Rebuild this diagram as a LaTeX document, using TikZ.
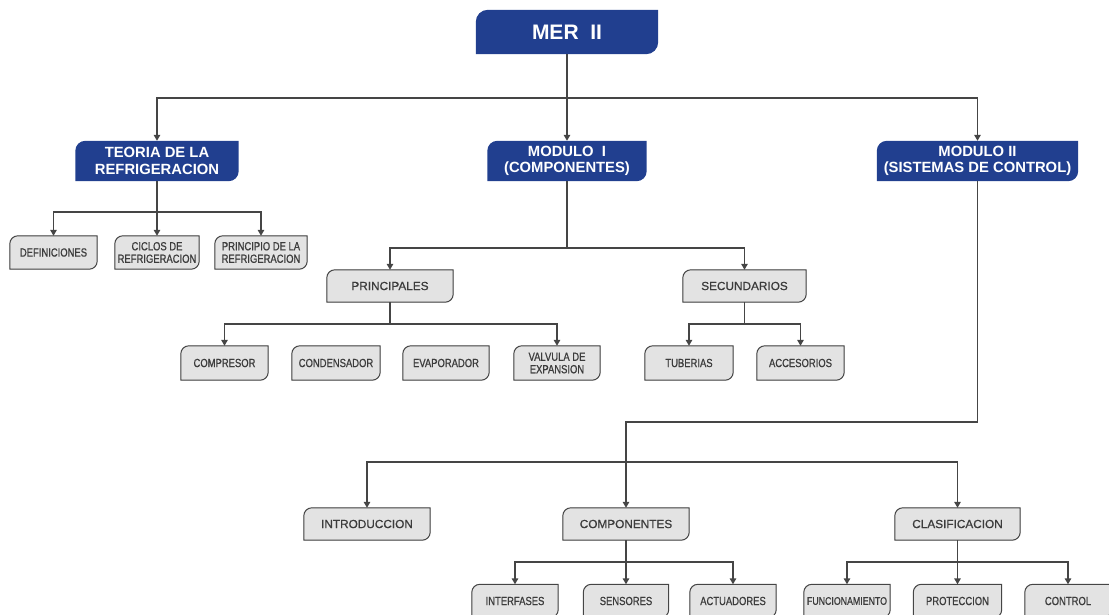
\documentclass[tikz,border=0pt]{standalone}
\usepackage{fontspec}
\setmainfont{Liberation Sans}
\newfontfamily\cond[FakeStretch=0.8,FakeBold=0.8]{Liberation Sans}
\newfontfamily\midf[FakeBold=0.8]{Liberation Sans}
\usetikzlibrary{arrows.meta,backgrounds}
\definecolor{mblue}{HTML}{213F8F}
\definecolor{gfill}{HTML}{E3E3E3}
\definecolor{gline}{HTML}{454545}
\definecolor{gtext}{HTML}{3C3C3C}
\tikzset{
  box/.style={rectangle, inner sep=0pt, align=center},
  bluebox/.style={box, text=white, font=\fontsize{14.8}{16.5}\selectfont\bfseries},
  midbox/.style={box, text=gtext, font=\midf\fontsize{11.8}{13}\selectfont},
  leafbox/.style={box, text=gtext, font=\cond\fontsize{11.8}{12.5}\selectfont},
  line/.style={draw=gline, line width=1.4pt},
  arr/.style={line, -{Triangle[width=6.5pt,length=6pt]}},
  blueshape/.style={fill=mblue},
  grayshade/.style={fill=gline, shift={(1.6,1.6)}},
  grayshape/.style={fill=gfill, draw=gline, line width=1pt},
}
\newcommand\shp[3]{\path[#3] (#1.south west) -- ([yshift=-#2pt]#1.north west) .. controls ([yshift=-0.45*#2pt]#1.north west) and ([xshift=0.45*#2pt]#1.north west) .. ([xshift=#2pt]#1.north west) -- (#1.north east) -- ([yshift=#2pt]#1.south east) .. controls ([yshift=0.45*#2pt]#1.south east) and ([xshift=-0.45*#2pt]#1.south east) .. ([xshift=-#2pt]#1.south east) -- cycle;}
\begin{document}
\begin{tikzpicture}[x=1pt,y=-1pt]
\useasboundingbox (0,0) rectangle (1109,614);
% blue nodes
\node[bluebox, minimum width=182pt, minimum height=44pt, font=\fontsize{21}{23}\selectfont\bfseries] (mer) at (567,32) {MER\ \ II};
\node[bluebox, minimum width=163pt, minimum height=40pt] (teo) at (157,161) {TEORIA DE LA\\REFRIGERACION};
\node[bluebox, minimum width=159pt, minimum height=40pt] (m1) at (567,161) {MODULO\ \ I\\(COMPONENTES)};
\node[bluebox, minimum width=201pt, minimum height=40pt] (m2) at (977.5,161) {MODULO II\\(SISTEMAS DE CONTROL)};
% mid nodes
\node[midbox, minimum width=126pt, minimum height=32pt] (pri) at (390,286) {PRINCIPALES};
\node[midbox, minimum width=123pt, minimum height=32pt] (sec) at (744.5,286) {SECUNDARIOS};
\node[midbox, minimum width=126pt, minimum height=32pt] (intro) at (367,524) {INTRODUCCION};
\node[midbox, minimum width=126pt, minimum height=32pt] (comp) at (626,524) {COMPONENTES};
\node[midbox, minimum width=125pt, minimum height=32pt] (clas) at (957.5,524) {CLASIFICACION};
% leaves
\node[leafbox, minimum width=87pt, minimum height=33pt] (def) at (53.5,252.5) {DEFINICIONES};
\node[leafbox, minimum width=84pt, minimum height=33pt] (cic) at (157,252.5) {CICLOS DE\\REFRIGERACION};
\node[leafbox, minimum width=92pt, minimum height=33pt] (prin) at (261,252.5) {PRINCIPIO DE LA\\REFRIGERACION};
\node[leafbox, minimum width=87pt, minimum height=34pt] (compr) at (224.5,363) {COMPRESOR};
\node[leafbox, minimum width=88pt, minimum height=34pt] (cond) at (336,363) {CONDENSADOR};
\node[leafbox, minimum width=86pt, minimum height=34pt] (evap) at (446,363) {EVAPORADOR};
\node[leafbox, minimum width=86pt, minimum height=34pt] (valv) at (557,363) {VALVULA DE\\EXPANSION};
\node[leafbox, minimum width=88pt, minimum height=34pt] (tub) at (689,363) {TUBERIAS};
\node[leafbox, minimum width=87pt, minimum height=34pt] (acc) at (800.5,363) {ACCESORIOS};
\node[leafbox, minimum width=86pt, minimum height=33pt] (inter) at (515,601) {INTERFASES};
\node[leafbox, minimum width=85pt, minimum height=33pt] (sens) at (626,601) {SENSORES};
\node[leafbox, minimum width=86pt, minimum height=33pt] (act) at (733,601) {ACTUADORES};
\node[leafbox, minimum width=86pt, minimum height=33pt, font=\cond\fontsize{11}{13}\selectfont] (func) at (847,601) {FUNCIONAMIENTO};
\node[leafbox, minimum width=88pt, minimum height=33pt] (prot) at (957.5,601) {PROTECCION};
\node[leafbox, minimum width=86pt, minimum height=33pt] (ctrl) at (1068,601) {CONTROL};
% shapes behind
\begin{scope}[on background layer]
  \shp{mer}{12}{blueshape}
  \foreach \n in {teo,m1,m2} {\shp{\n}{10}{blueshape}}
  \foreach \n in {pri,sec,intro,comp,clas,def,cic,prin,compr,cond,evap,valv,tub,acc,inter,sens,act,func,prot,ctrl} {\shp{\n}{8}{grayshade}\shp{\n}{8}{grayshape}}
\end{scope}
% junction coordinates
\coordinate (j0) at (567,98);
\coordinate (j1) at (157,212);
\coordinate (j2) at (567,248);
\coordinate (j3) at (390,324);
\coordinate (j4) at (744.5,324);
\coordinate (j5) at (626,422);
\coordinate (j6) at (626,462);
\coordinate (j7) at (626,562);
\coordinate (j8) at (957.5,562);
% connectors
\draw[line] (mer.south) -- (j0);
\draw[arr] (j0) -| (teo.north);
\draw[arr] (j0) -- (m1.north);
\draw[arr] (j0) -| (m2.north);
\draw[line] (teo.south) -- (j1);
\draw[arr] (j1) -| (def.north);
\draw[arr] (j1) -- (cic.north);
\draw[arr] (j1) -| (prin.north);
\draw[line] (m1.south) -- (j2);
\draw[arr] (j2) -| (pri.north);
\draw[arr] (j2) -| (sec.north);
\draw[line] (pri.south) -- (j3);
\draw[arr] (j3) -| (compr.north);
\draw[arr] (j3) -| (valv.north);
\draw[line] (sec.south) -- (j4);
\draw[arr] (j4) -| (tub.north);
\draw[arr] (j4) -| (acc.north);
\draw[line] (m2.south) |- (j5) -- (j6);
\draw[arr] (j6) -| (intro.north);
\draw[arr] (j6) -- (comp.north);
\draw[arr] (j6) -| (clas.north);
\draw[line] (comp.south) -- (j7);
\draw[arr] (j7) -| (inter.north);
\draw[arr] (j7) -- (sens.north);
\draw[arr] (j7) -| (act.north);
\draw[line] (clas.south) -- (j8);
\draw[arr] (j8) -| (func.north);
\draw[arr] (j8) -- (prot.north);
\draw[arr] (j8) -| (ctrl.north);
\end{tikzpicture}
\end{document}
